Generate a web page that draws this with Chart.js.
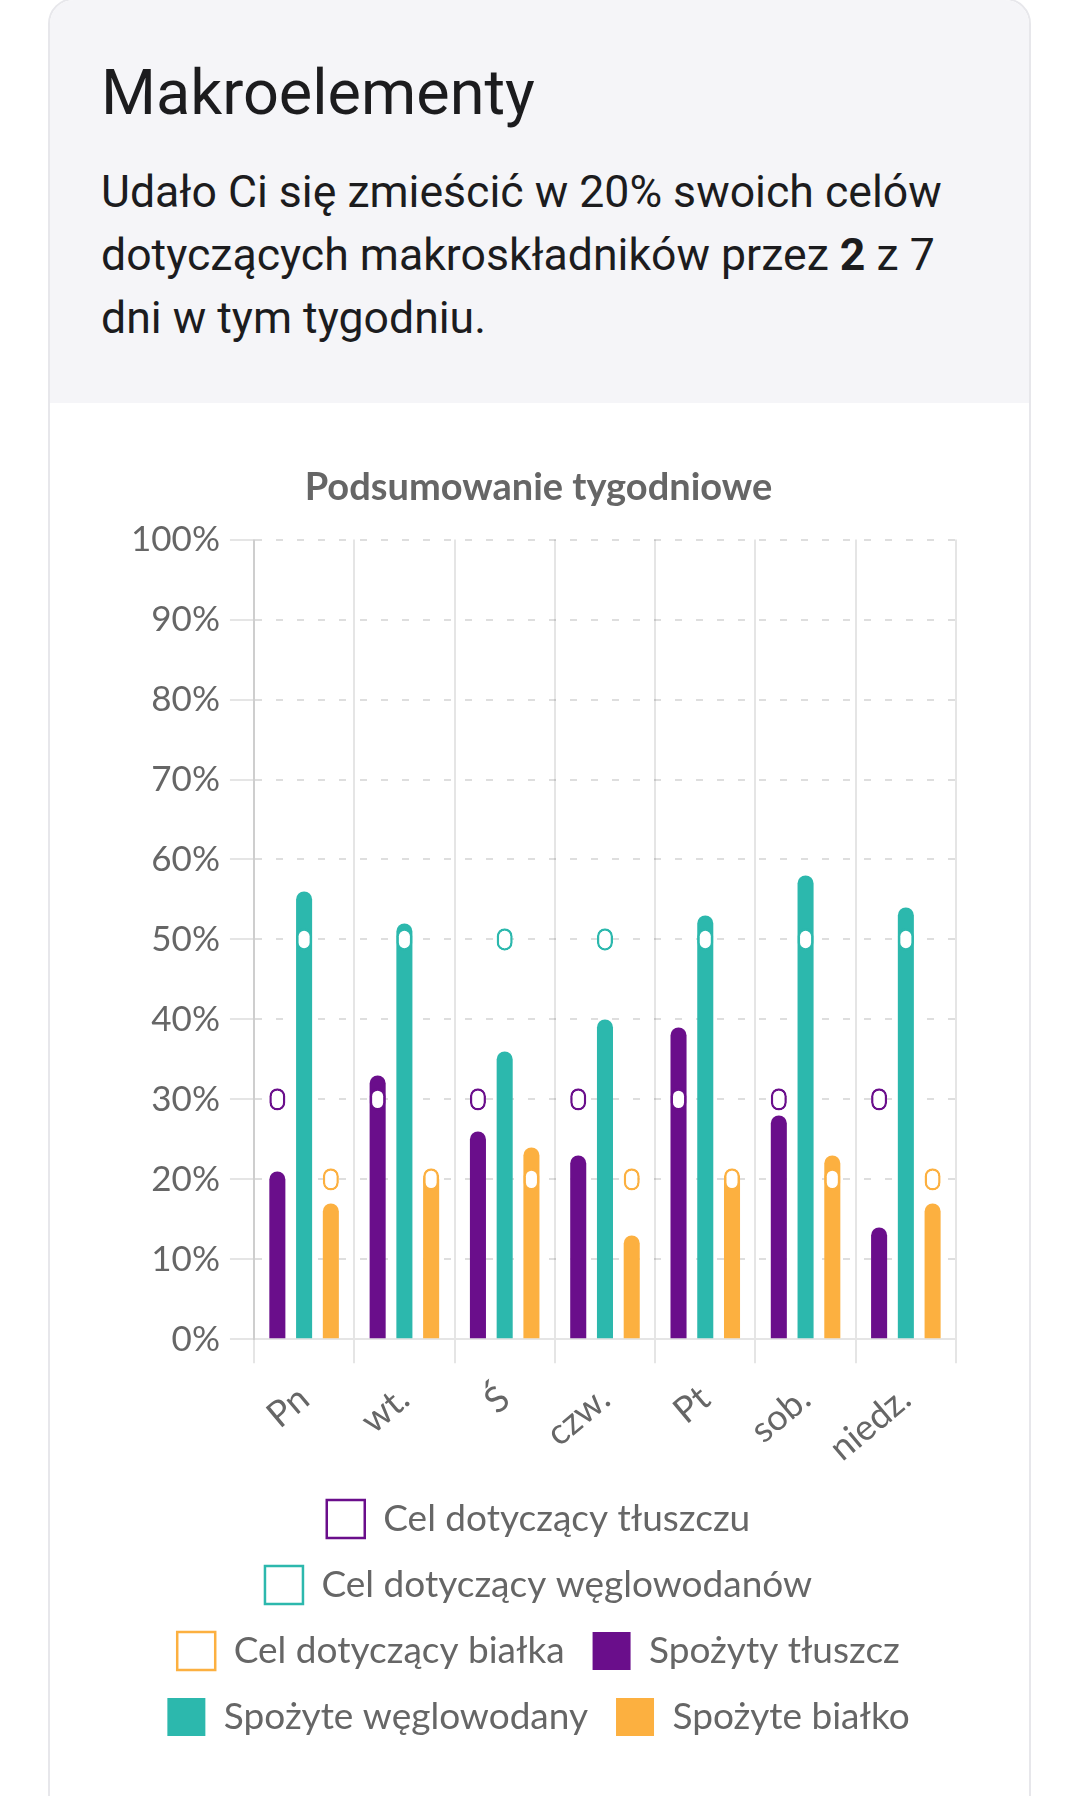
<!DOCTYPE html>
<html lang="pl">
<head>
<meta charset="utf-8">
<script src="https://cdn.jsdelivr.net/npm/chart.js@4.4.1/dist/chart.umd.min.js"></script>
<style>
  body { margin: 0; background: #fff; width: 1080px; height: 1796px; overflow: hidden; position: relative; }
  .card {
    position: absolute; left: 48px; top: -2px; width: 979px; height: 1820px;
    border: 2px solid #e7e7eb; border-radius: 26px; overflow: hidden; background: #fff;
  }
  .naglowek { position: absolute; left: 0; top: 0; width: 100%; height: 403px; background: #f5f5f8; }
  .tytul {
    position: absolute; left: 51px; top: 61px; margin: 0;
    font-family: Roboto, sans-serif; font-weight: 400; font-size: 63px; line-height: 63px; color: #1c1c1e;
  }
  .opis {
    position: absolute; left: 51px; top: 161px; margin: 0; width: 920px;
    font-family: Roboto, sans-serif; font-size: 44.6px; line-height: 63px; color: #1c1c1e;
  }
  .wykres { position: absolute; left: 100px; top: 455px; width: 880px; height: 1291px; }
</style>
</head>
<body>
<div class="card">
  <div class="naglowek">
    <h1 class="tytul">Makroelementy</h1>
    <p class="opis">Udało Ci się zmieścić w 20% swoich celów<br>dotyczących makroskładników przez <b>2</b> z 7<br>dni w tym tygodniu.</p>
  </div>
</div>
<div class="wykres"><canvas id="makroChart"></canvas></div>

<script>
// dni tygodnia
const dni = ['Pn', 'wt.', 'Ś', 'czw.', 'Pt', 'sob.', 'niedz.'];

// cele (%)
const celTluszcz = [30, 30, 30, 30, 30, 30, 30];
const celWegle = [50, 50, 50, 50, 50, 50, 50];
const celBialko = [20, 20, 20, 20, 20, 20, 20];

// spożyte (%)
const spozytyTluszcz = [21, 33, 26, 23, 39, 28, 14];
const spozyteWegle = [56, 52, 36, 40, 53, 58, 54];
const spozyteBialko = [17, 21, 24, 13, 21, 23, 17];

// oś Y
const osY = [0, 10, 20, 30, 40, 50, 60, 70, 80, 90, 100];

const fiolet = '#6a0e8b';
const turkus = '#2cb8ad';
const pomarancz = '#fcb040';
const szary = 'rgba(0, 0, 0, 0.1)';
const szaryKreski = 'rgba(0, 0, 0, 0.13)';
const czcionka = 'Lato, "Noto Sans", sans-serif';

// cel rysowany jako mała kapsułka wokół wartości
const polowaKapsulki = 1.4;
function kapsulka(arr) {
    return arr.map(v => [v - polowaKapsulki, v + polowaKapsulki]);
}

function cel(label, dane, stos, kolor) {
    return {
        label: label,
        data: kapsulka(dane),
        stack: stos,
        backgroundColor: '#fff',
        borderColor: kolor,
        borderWidth: 2.5,
        borderRadius: 8,
        borderSkipped: false,
        categoryPercentage: 0.8,
        barPercentage: 0.6
    };
}

function spozyte(label, dane, stos, kolor) {
    return {
        label: label,
        data: dane,
        stack: stos,
        backgroundColor: kolor,
        borderWidth: 0,
        borderRadius: 8,
        borderSkipped: 'start',
        categoryPercentage: 0.8,
        barPercentage: 0.6
    };
}

document.addEventListener('DOMContentLoaded', function() {
    const ctx = document.getElementById('makroChart').getContext('2d');

    new Chart(ctx, {
        type: 'bar',
        data: {
            labels: dni,
            datasets: [
                cel('Cel dotyczący tłuszczu', celTluszcz, 't', fiolet),
                cel('Cel dotyczący węglowodanów', celWegle, 'w', turkus),
                cel('Cel dotyczący białka', celBialko, 'b', pomarancz),
                spozyte('Spożyty tłuszcz', spozytyTluszcz, 't', fiolet),
                spozyte('Spożyte węglowodany', spozyteWegle, 'w', turkus),
                spozyte('Spożyte białko', spozyteBialko, 'b', pomarancz)
            ]
        },
        options: {
            responsive: true,
            maintainAspectRatio: false,
            animation: false,
            layout: { padding: { left: 21, right: 24 } },
            plugins: {
                title: {
                    display: true,
                    text: 'Podsumowanie tygodniowe',
                    color: '#666',
                    font: { family: czcionka, size: 38, weight: 'bold' },
                    padding: { top: 10, bottom: 29 }
                },
                legend: {
                    position: 'bottom',
                    labels: {
                        color: '#666',
                        font: { family: czcionka, size: 37 },
                        boxWidth: 38,
                        boxHeight: 38,
                        padding: 28
                    }
                },
                tooltip: { enabled: false }
            },
            scales: {
                x: {
                    stacked: true,
                    afterFit: function(axis) {
                        // oś X trochę niższa, etykiety bliżej legendy
                        axis.height -= 12;
                    },
                    grid: {
                        color: szary,
                        lineWidth: 2,
                        tickLength: 24,
                        tickColor: szary,
                        offset: true
                    },
                    border: { color: szary, width: 2 },
                    ticks: {
                        color: '#666',
                        font: { family: czcionka, size: 36 },
                        minRotation: 40,
                        maxRotation: 40,
                        padding: 14
                    }
                },
                y: {
                    stacked: false,
                    min: 0,
                    max: 100,
                    afterBuildTicks: function(axis) {
                        axis.ticks = osY.map(v => ({ value: v }));
                    },
                    grid: {
                        color: c => c.tick && c.tick.value === 0 ? 'rgba(0,0,0,0)' : szaryKreski,
                        lineWidth: 2,
                        tickLength: 24,
                        tickColor: szary
                    },
                    border: { color: szary, width: 2, dash: [7, 14] },
                    ticks: {
                        color: '#666',
                        font: { family: czcionka, size: 35 },
                        padding: 10,
                        callback: v => v + '%'
                    }
                }
            }
        }
    });
});
</script>
</body>
</html>
